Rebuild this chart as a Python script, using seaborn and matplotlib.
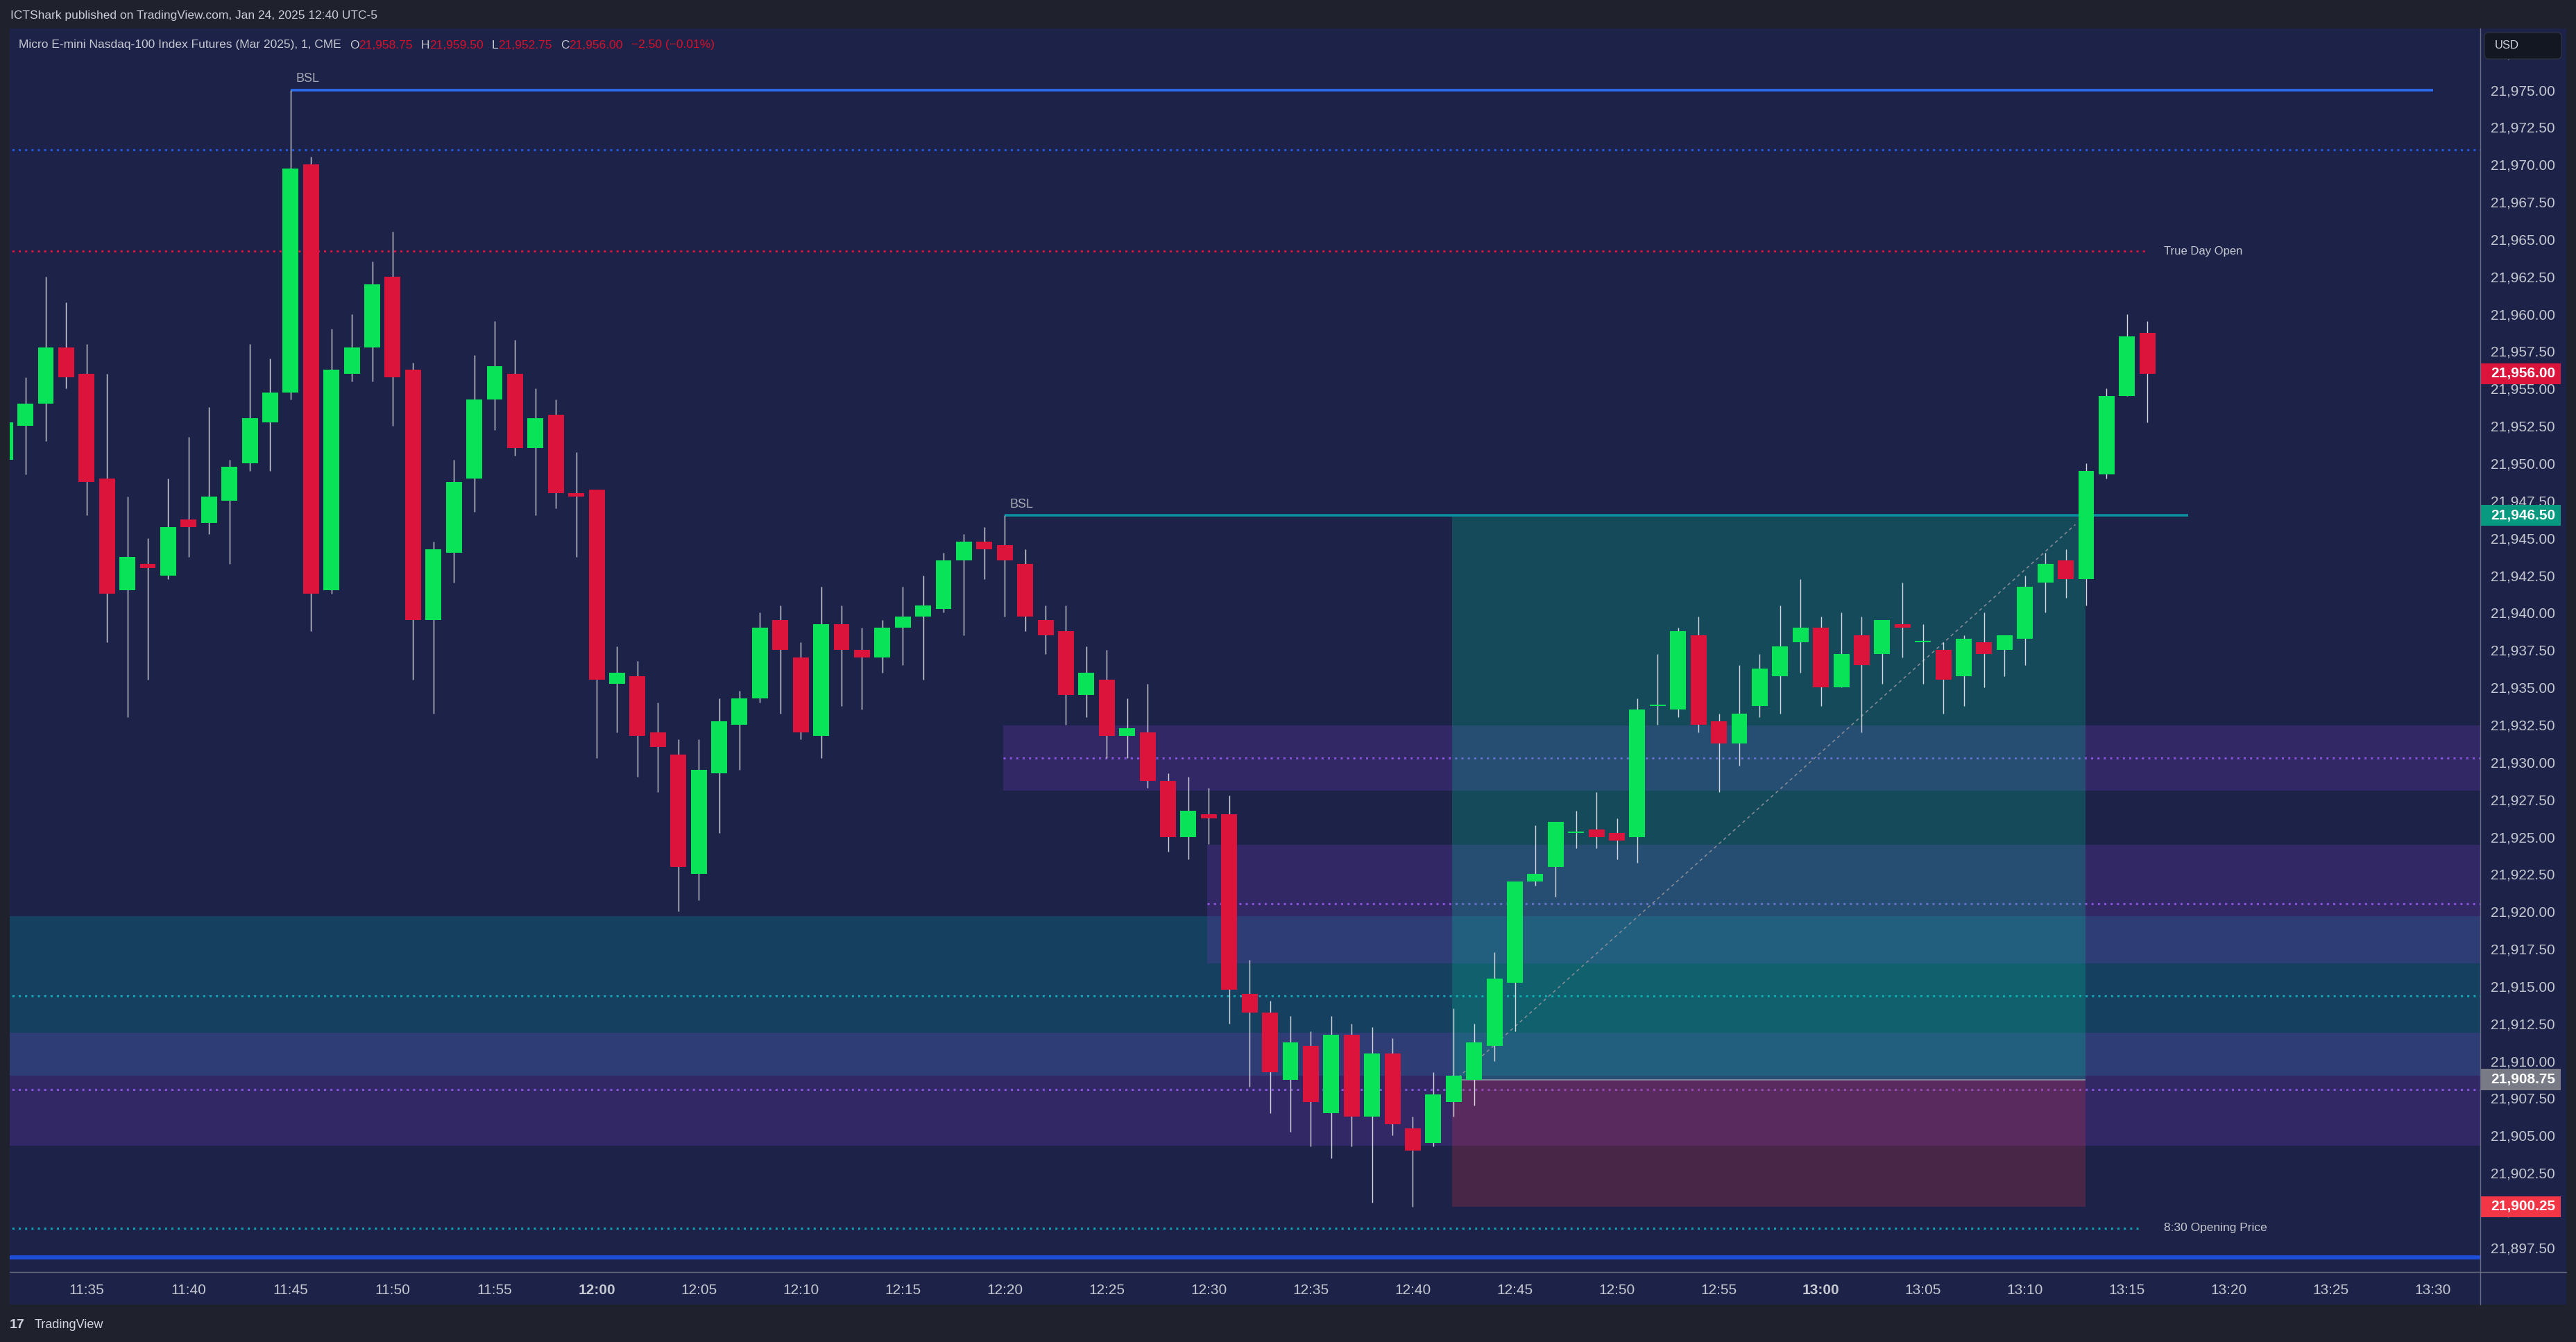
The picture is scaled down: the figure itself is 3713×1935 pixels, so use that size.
import matplotlib
matplotlib.use("Agg")
import matplotlib.pyplot as plt
import matplotlib.patches as mpatches
import matplotlib.transforms as mtrans
from matplotlib.lines import Line2D
from matplotlib.ticker import MultipleLocator, FuncFormatter
import numpy as np
import pandas as pd
import seaborn as sns

# ---------------- data (1-minute MNQ candles, minutes after 11:35) ----------------
FIRST_MINUTE = -4

opens = [
    21950.25, 21952.5, 21954.0, 21957.75, 21956.0, 21949.0, 21941.5, 21943.25, 21942.5, 21946.25,
    21946.0, 21947.5, 21950.0, 21952.75, 21954.75, 21970.0, 21941.5, 21956.0, 21957.75, 21962.5,
    21956.25, 21939.5, 21944.0, 21949.0, 21954.25, 21956.0, 21951.0, 21953.25, 21948.0, 21948.25,
    21935.25, 21935.75, 21932.0, 21930.5, 21922.5, 21929.25, 21932.5, 21934.25, 21939.5, 21937.0,
    21931.75, 21939.25, 21937.5, 21937.0, 21939.0, 21939.75, 21940.25, 21943.5, 21944.75, 21944.5,
    21943.25, 21939.5, 21938.75, 21934.5, 21935.5, 21931.75, 21932.0, 21928.75, 21925.0, 21926.5,
    21926.5, 21914.5, 21913.25, 21908.75, 21911.0, 21906.5, 21911.75, 21906.25, 21910.5, 21905.5,
    21904.5, 21907.25, 21908.75, 21911.0, 21915.25, 21922.0, 21923.0, 21925.25, 21925.5, 21925.25,
    21925.0, 21933.75, 21933.5, 21938.5, 21932.75, 21931.25, 21933.75, 21935.75, 21938.0, 21939.0,
    21935.0, 21938.5, 21937.25, 21939.25, 21938.0, 21937.5, 21935.75, 21938.0, 21937.5, 21938.25,
    21942.0, 21943.5, 21942.25, 21949.25, 21954.5, 21958.75,
]
highs = [
    21953.5, 21955.75, 21962.5, 21960.75, 21958.0, 21956.0, 21947.75, 21945.0, 21949.0, 21951.75,
    21953.75, 21950.25, 21958.0, 21957.0, 21975.0, 21970.5, 21959.0, 21960.0, 21963.5, 21965.5,
    21956.75, 21944.75, 21950.25, 21957.25, 21959.5, 21958.25, 21955.0, 21954.25, 21950.75, 21948.25,
    21937.75, 21936.75, 21934.0, 21931.5, 21931.5, 21934.25, 21934.75, 21940.0, 21940.5, 21938.0,
    21941.75, 21940.5, 21939.0, 21939.5, 21941.75, 21942.5, 21944.0, 21945.25, 21945.75, 21946.5,
    21944.25, 21940.5, 21940.5, 21937.75, 21937.5, 21934.25, 21935.25, 21929.25, 21929.0, 21928.25,
    21927.75, 21916.75, 21914.0, 21913.0, 21912.0, 21913.0, 21912.5, 21912.25, 21911.5, 21906.25,
    21909.25, 21913.5, 21912.5, 21917.25, 21922.0, 21925.75, 21926.0, 21926.75, 21928.0, 21926.25,
    21934.25, 21937.25, 21939.0, 21939.75, 21933.25, 21936.5, 21937.25, 21940.5, 21942.25, 21939.75,
    21940.0, 21939.75, 21939.5, 21942.0, 21939.25, 21938.0, 21938.5, 21940.0, 21938.5, 21942.5,
    21944.0, 21944.25, 21950.0, 21955.0, 21960.0, 21959.5,
]
lows = [
    21949.5, 21949.25, 21951.5, 21955.0, 21946.5, 21938.0, 21933.0, 21935.5, 21942.25, 21943.75,
    21945.25, 21943.25, 21949.5, 21949.5, 21954.25, 21938.75, 21941.25, 21955.5, 21955.5, 21952.5,
    21935.5, 21933.25, 21942.0, 21946.75, 21952.25, 21950.5, 21946.5, 21947.0, 21943.75, 21930.25,
    21932.0, 21929.0, 21928.0, 21920.0, 21920.75, 21925.25, 21929.5, 21934.0, 21933.25, 21931.5,
    21930.25, 21933.75, 21933.5, 21936.0, 21936.5, 21935.5, 21940.0, 21938.5, 21942.25, 21939.75,
    21938.75, 21937.25, 21932.5, 21933.0, 21930.25, 21930.25, 21928.25, 21924.0, 21923.5, 21924.5,
    21912.5, 21908.25, 21906.5, 21905.25, 21904.25, 21903.5, 21904.25, 21900.5, 21905.0, 21900.25,
    21904.25, 21906.25, 21907.0, 21910.0, 21912.0, 21921.75, 21921.0, 21924.25, 21924.25, 21923.5,
    21923.25, 21932.5, 21933.0, 21932.0, 21928.0, 21929.75, 21933.0, 21933.25, 21936.0, 21933.75,
    21935.0, 21932.0, 21935.25, 21937.0, 21935.25, 21933.25, 21933.75, 21935.0, 21935.75, 21936.5,
    21940.0, 21941.0, 21940.5, 21949.0, 21954.5, 21952.75,
]
closes = [
    21952.75, 21954.0, 21957.75, 21955.75, 21948.75, 21941.25, 21943.75, 21943.0, 21945.75, 21945.75,
    21947.75, 21949.75, 21953.0, 21954.75, 21969.75, 21941.25, 21956.25, 21957.75, 21962.0, 21955.75,
    21939.5, 21944.25, 21948.75, 21954.25, 21956.5, 21951.0, 21953.0, 21948.0, 21947.75, 21935.5,
    21936.0, 21931.75, 21931.0, 21923.0, 21929.5, 21932.75, 21934.25, 21939.0, 21937.5, 21932.0,
    21939.25, 21937.5, 21937.0, 21939.0, 21939.75, 21940.5, 21943.5, 21944.75, 21944.25, 21943.5,
    21939.75, 21938.5, 21934.5, 21936.0, 21931.75, 21932.25, 21928.75, 21925.0, 21926.75, 21926.25,
    21914.75, 21913.25, 21909.25, 21911.25, 21907.25, 21911.75, 21906.25, 21910.5, 21905.75, 21904.0,
    21907.75, 21909.0, 21911.25, 21915.5, 21922.0, 21922.5, 21926.0, 21925.25, 21925.0, 21924.75,
    21933.5, 21933.75, 21938.75, 21932.5, 21931.25, 21933.25, 21936.25, 21937.75, 21939.0, 21935.0,
    21937.25, 21936.5, 21939.5, 21939.0, 21938.0, 21935.5, 21938.25, 21937.25, 21938.5, 21941.75,
    21943.25, 21942.25, 21949.5, 21954.5, 21958.5, 21956.0,
]

time_labels = ["11:35", "11:40", "11:45", "11:50", "11:55", "12:00", "12:05", "12:10",
               "12:15", "12:20", "12:25", "12:30", "12:35", "12:40", "12:45", "12:50",
               "12:55", "13:00", "13:05", "13:10", "13:15", "13:20", "13:25", "13:30"]

# zones: fair value gaps / order blocks (bottom, top, first bar or None = off-screen)
zone_bottom = [21909.0, 21904.3, 21916.55, 21928.1]
zone_top = [21919.7, 21911.9, 21924.45, 21932.45]
zone_start_bar = [None, None, 55, 45]
zone_kind = ["teal", "purple", "purple", "purple"]

# levels
bsl_price = [21975.0, 21946.5]
bsl_start_bar = [10, 45]
bsl_end_bar = [115, 103]
true_day_open = 21964.2
opening_830 = 21898.8
blue_dotted_level = 21971.0
bottom_blue_level = 21896.85

# long position tool
entry_price = 21908.75
target_price = 21946.50
stop_price = 21900.25
pos_start_bar = 67
pos_end_bar = 98

# right scale tags
tag_prices = [21956.00, 21946.50, 21908.75, 21900.25]
tag_colors = ["#dc143c", "#089981", "#787b86", "#f23645"]

# ---------------- style ----------------
W, H = 3713, 1935
BG_OUT = "#1f222d"
BG = "#1d2248"
GREEN = "#08e357"
RED = "#dc143c"
WICK = "#d6d8de"
TXT = "#c5c8d0"

sns.set_theme(style="dark", rc={"axes.facecolor": BG, "figure.facecolor": BG_OUT})
plt.rcParams["font.family"] = ["Liberation Sans", "DejaVu Sans"]


def fx(px):
    return px / W


def fy(py):
    return 1 - py / H


df = pd.DataFrame({"open": opens, "high": highs, "low": lows, "close": closes})
df["minute"] = np.arange(len(df)) + FIRST_MINUTE
up = df["close"] >= df["open"]
body_lo = df[["open", "close"]].min(axis=1)
body_h = (df["close"] - df["open"]).abs().clip(lower=0.1)

fig = plt.figure(figsize=(W / 100, H / 100), dpi=100, facecolor=BG_OUT)
fig.patches.append(mpatches.Rectangle((fx(14), fy(1881)), fx(3699) - fx(14), fy(41) - fy(1881),
                                      transform=fig.transFigure, facecolor=BG, edgecolor="none",
                                      zorder=-1))

ax = fig.add_axes([fx(14), fy(1834), fx(3575) - fx(14), fy(41) - fy(1834)])
ax.set_facecolor(BG)
ax.grid(False)
for s in ax.spines.values():
    s.set_visible(False)

XMIN = (14 - 124.8) / 29.41
XMAX = (3575 - 124.8) / 29.41
ax.set_xlim(XMIN, XMAX)
ax.set_ylim(21895.868, 21979.109)

# zones
zone_fill = {"teal": "#098698", "purple": "#6639ac"}
zone_mid = {"teal": "#14a3b2", "purple": "#8452d6"}
dot = (0, (1, 2))
for b, t, sb, kind in zip(zone_bottom, zone_top, zone_start_bar, zone_kind):
    x0 = XMIN - 1 if sb is None else sb - 0.07
    ax.add_patch(mpatches.Rectangle((x0, b), XMAX + 1 - x0, t - b, facecolor=zone_fill[kind],
                                    alpha=0.3, edgecolor="none", zorder=1))
    ax.hlines((b + t) / 2, x0, XMAX + 1, colors=zone_mid[kind], lw=2.2, linestyles=dot, zorder=1.5)

# long position box
px0, px1 = pos_start_bar - 0.07, pos_end_bar - 0.03
ax.add_patch(mpatches.Rectangle((px0, entry_price), px1 - px0, target_price - entry_price,
                                facecolor="#01c296", alpha=0.25, edgecolor="none", zorder=2))
ax.add_patch(mpatches.Rectangle((px0, stop_price), px1 - px0, entry_price - stop_price,
                                facecolor="#c93248", alpha=0.25, edgecolor="none", zorder=2))
ax.hlines(entry_price, px0, px1, colors="#9a9daa", lw=1.1, zorder=2.2)
ax.plot([px0 + 0.3, px1 - 0.5], [entry_price + 0.15, target_price - 0.6], color="#8a8e99",
        lw=1.1, ls=(0, (3, 3)), zorder=2.3)

# level lines
ax.hlines(blue_dotted_level, XMIN - 1, XMAX + 1, colors="#2457e0", lw=2.2, linestyles=dot, zorder=3)
ax.hlines(true_day_open, XMIN - 1, 101, colors="#d4143c", lw=2.2, linestyles=dot, zorder=3)
ax.hlines(opening_830, XMIN - 1, 100.75, colors="#10a0b0", lw=2.2, linestyles=dot, zorder=3)
ax.hlines(bottom_blue_level, XMIN - 1, XMAX + 1, colors="#1e4fd8", lw=4.2, zorder=3)
bsl_colors = ["#2c6cf0", "#0b8fa0"]
for p, sb, eb, c in zip(bsl_price, bsl_start_bar, bsl_end_bar, bsl_colors):
    ax.hlines(p, sb, eb, colors=c, lw=2.6, zorder=3)
    ax.text(sb + 0.25, p + 0.35, "BSL", color="#a9acb6", fontsize=13, va="bottom", ha="left", zorder=3)
ax.text(101.8, true_day_open, "True Day Open", color=TXT, fontsize=12, va="center", ha="left")
ax.text(101.8, opening_830, "8:30 Opening Price", color=TXT, fontsize=12.5, va="center", ha="left")

# candles
ax.vlines(df["minute"], df["low"], df["high"], colors=WICK, lw=1.0, zorder=5)
ax.bar(df["minute"], body_h, bottom=body_lo, width=0.78, color=np.where(up, GREEN, RED),
       linewidth=0, zorder=6)

# time axis
tick_minutes = [int(s[:2]) * 60 + int(s[3:]) - (11 * 60 + 35) for s in time_labels]
ax.set_xticks(tick_minutes)
ax.set_xticklabels(time_labels)
ax.tick_params(axis="x", length=0, pad=12.2, labelsize=15, labelcolor=TXT, bottom=True)
for lab in ax.get_xticklabels():
    if lab.get_text().endswith(":00"):
        lab.set_fontweight("bold")

# price axis
ax.yaxis.tick_right()
ax.yaxis.set_major_locator(MultipleLocator(2.5))
ax.yaxis.set_major_formatter(FuncFormatter(lambda v, _: f"{v:,.2f}"))
ax.tick_params(axis="y", length=0, pad=10.8, labelsize=15, labelcolor=TXT, right=True, left=False)

blend = mtrans.blended_transform_factory(ax.transAxes, ax.transData)
ax_w = 3575 - 14
for p, c in zip(tag_prices, tag_colors):
    ax.add_patch(mpatches.Rectangle((1.0, p - 0.7), 116 / ax_w, 1.4, transform=blend,
                                    facecolor=c, edgecolor="none", clip_on=False, zorder=10))
    ax.text(1 + 15 / ax_w, p, f"{p:,.2f}", transform=blend, color="white", fontsize=15,
            fontweight="bold", va="center", ha="left", clip_on=False, zorder=11)

# separators of the panes
fig.lines.append(Line2D([fx(3575), fx(3575)], [fy(41), fy(1881)], transform=fig.transFigure,
                        color="#6a6d80", lw=1.0))
fig.lines.append(Line2D([fx(14), fx(3699)], [fy(1834), fy(1834)], transform=fig.transFigure,
                        color="#6a6d80", lw=1.0))

# USD box
ident = mtrans.IdentityTransform()
fig.patches.append(mpatches.FancyBboxPatch((3581, H - 85), 111, 38,
                                           boxstyle="round,pad=0,rounding_size=6",
                                           transform=ident, facecolor="#131722",
                                           edgecolor="#2e3240", lw=1.0, zorder=5))
fig.text(fx(3596), fy(66), "USD", color="#d1d4dc", fontsize=12, va="center", ha="left", zorder=6)

# header
fig.text(fx(15), fy(23), "ICTShark published on TradingView.com, Jan 24, 2025 12:40 UTC-5",
         color="#c9ccd4", fontsize=12.5, va="center", ha="left")

last = df.iloc[-1]
chg = last["close"] - df["close"].iloc[-2]
pct = chg / df["close"].iloc[-2] * 100
RED_TXT = "#d8102a"
pieces = [("Micro E-mini Nasdaq-100 Index Futures (Mar 2025), 1, CME", TXT, 0),
          ("O", TXT, 12), (f"{last['open']:,.2f}", RED_TXT, 0),
          ("H", TXT, 12), (f"{last['high']:,.2f}", RED_TXT, 0),
          ("L", TXT, 12), (f"{last['low']:,.2f}", RED_TXT, 0),
          ("C", TXT, 12), (f"{last['close']:,.2f}", RED_TXT, 0),
          (f"{chg:+.2f} ({pct:+.2f}%)".replace("-", "\u2212"), RED_TXT, 12)]
renderer = fig.canvas.get_renderer()
xpos = 27
for s, c, gap in pieces:
    xpos += gap
    t = fig.text(xpos / W, fy(65), s, color=c, fontsize=12.5, va="center", ha="left")
    xpos = t.get_window_extent(renderer=renderer).x1

# footer logo
fig.text(fx(14), fy(1910), "17", color="#d1d4dc", fontsize=14, fontweight="bold", va="center", ha="left")
fig.text(fx(50), fy(1910), "TradingView", color="#d1d4dc", fontsize=13, va="center", ha="left")

fig.savefig("out.png", dpi=100, facecolor=BG_OUT)
